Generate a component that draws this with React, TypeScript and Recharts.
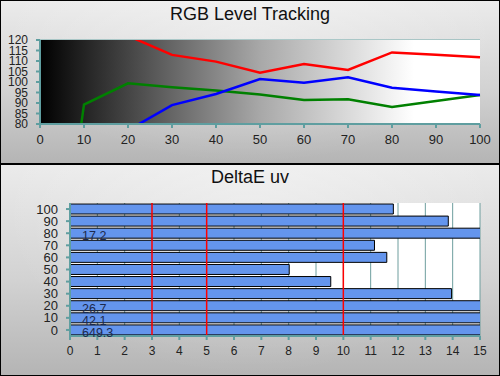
import React from 'react';
import {
  LineChart,
  Line,
  BarChart,
  Bar,
  XAxis,
  YAxis,
  CartesianGrid,
  ReferenceArea,
  ReferenceLine,
  LabelList,
} from 'recharts';

// RGB level tracking, stimulus level in %
const levels = [0, 10, 20, 30, 40, 50, 60, 70, 80, 90, 100];
const redValues = [160, 150, 122, 112.9, 109.7, 104.4, 108.6, 105.7, 114.1, 113, 111.8];
const greenValues = [-60, 89.2, 99.4, 97.5, 95.9, 94.1, 91.4, 91.8, 88.1, 91, 93.8];
const blueValues = [40, 60, 77, 89, 94.3, 101.4, 99.7, 102.2, 97.3, 95.5, 93.8];
const levelTicks = [0, 10, 20, 30, 40, 50, 60, 70, 80, 90, 100];
const rgbTicks = [80, 85, 90, 95, 100, 105, 110, 115, 120];

// DeltaE uv per level (top to bottom)
const deltaLevels = ['100', '90', '80', '70', '60', '50', '40', '30', '20', '10', '0'];
const deltaValues = [11.83, 13.84, 17.2, 11.14, 11.59, 8.02, 9.54, 13.96, 26.7, 42.1, 649.3];
const deltaTicks = [0, 1, 2, 3, 4, 5, 6, 7, 8, 9, 10, 11, 12, 13, 14, 15];
const deltaLimits = [3, 5, 10];

const rgbData = levels.map((lvl, i) => ({
  level: lvl,
  red: redValues[i],
  green: greenValues[i],
  blue: blueValues[i],
}));

const deltaData = deltaLevels.map((lvl, i) => ({ level: lvl, de: deltaValues[i] }));

const FONT = 'Arial, "Liberation Sans", sans-serif';
const AXIS = '#5f9ea0';
const tickStyle = { fill: '#222', fontSize: 13, fontFamily: FONT };

const panelBg =
  'radial-gradient(ellipse at 50% 20%, rgba(255,255,255,0.35), rgba(255,255,255,0) 70%), linear-gradient(to bottom, #ebebeb, #d2d2d2 55%, #b4b4b4)';

// values past the 15 axis limit get printed inside the bar
const overLabel = (props: any) => {
  const { x, y, height, value } = props;
  if (value <= 15) return null;
  return (
    <text
      x={x + 12}
      y={y + height / 2 + 4}
      fill="#1c2a4e"
      fontSize={12.5}
      fontFamily={FONT}
      dominantBaseline="middle"
    >
      {value}
    </text>
  );
};

export default function App() {
  return (
    <div
      style={{
        position: 'absolute',
        left: 0,
        top: 0,
        width: 500,
        height: 376,
        overflow: 'hidden',
        fontFamily: FONT,
      }}
    >
      {/* top panel */}
      <div style={{ position: 'absolute', left: 0, top: 0, width: 500, height: 164, background: panelBg }}>
        <div
          style={{
            position: 'absolute',
            top: 4,
            width: 500,
            textAlign: 'center',
            fontSize: 18,
            color: '#111',
          }}
        >
          RGB Level Tracking
        </div>
        <div style={{ position: 'absolute', left: 0, top: 0 }}>
          <LineChart width={500} height={164} data={rgbData} margin={{ top: 40, right: 20, left: 0, bottom: 10 }}>
            <defs>
              <linearGradient id="rgbBg" x1="0" y1="0" x2="1" y2="0">
                <stop offset="0%" stopColor="#000" />
                <stop offset="12%" stopColor="#2a2a2a" />
                <stop offset="50%" stopColor="#a8a8a8" />
                <stop offset="85%" stopColor="#fff" />
                <stop offset="100%" stopColor="#fff" />
              </linearGradient>
            </defs>
            <ReferenceArea x1={0} x2={100} y1={80} y2={120} fill="url(#rgbBg)" fillOpacity={1} stroke="none" ifOverflow="hidden" />
            <CartesianGrid vertical={false} stroke="#6fa9a9" strokeWidth={1} />
            <XAxis
              dataKey="level"
              type="number"
              domain={[0, 100]}
              ticks={levelTicks}
              height={30}
              tick={tickStyle}
              tickSize={4}
              tickMargin={7}
              stroke={AXIS}
              strokeWidth={2}
              tickLine={{ stroke: AXIS, strokeWidth: 2 }}
            />
            <YAxis
              type="number"
              domain={[80, 120]}
              ticks={rgbTicks}
              allowDataOverflow
              width={40}
              interval={0}
              tick={{ ...tickStyle, fontSize: 12 }}
              tickSize={4}
              tickMargin={8}
              stroke={AXIS}
              strokeWidth={2}
              tickLine={{ stroke: AXIS, strokeWidth: 2 }}
            />
            <Line dataKey="red" stroke="#ff0000" strokeWidth={2.5} dot={false} isAnimationActive={false} />
            <Line dataKey="green" stroke="#008000" strokeWidth={2.5} dot={false} isAnimationActive={false} />
            <Line dataKey="blue" stroke="#0000ff" strokeWidth={2.5} dot={false} isAnimationActive={false} />
          </LineChart>
        </div>
      </div>

      {/* bottom panel */}
      <div style={{ position: 'absolute', left: 0, top: 164, width: 500, height: 212, background: panelBg }}>
        <div
          style={{
            position: 'absolute',
            top: 3,
            width: 500,
            textAlign: 'center',
            fontSize: 18,
            color: '#111',
          }}
        >
          DeltaE uv
        </div>
        <div style={{ position: 'absolute', left: 0, top: 0 }}>
          <BarChart
            width={500}
            height={212}
            data={deltaData}
            layout="vertical"
            barSize={10}
            margin={{ top: 39, right: 20, left: 0, bottom: 10 }}
          >
            <CartesianGrid horizontal={false} stroke="#6e9e9e" fill="#fff" fillOpacity={1} />
            <XAxis
              type="number"
              domain={[0, 15]}
              ticks={deltaTicks}
              allowDataOverflow
              interval={0}
              height={30}
              tick={{ ...tickStyle, fontSize: 12 }}
              tickSize={4}
              tickMargin={6}
              stroke={AXIS}
              strokeWidth={2}
              tickLine={{ stroke: AXIS, strokeWidth: 2 }}
            />
            <YAxis
              type="category"
              dataKey="level"
              width={70}
              interval={0}
              tick={tickStyle}
              tickSize={4}
              tickMargin={8}
              stroke={AXIS}
              strokeWidth={2}
              tickLine={{ stroke: AXIS, strokeWidth: 2 }}
            />
            <Bar dataKey="de" fill="#6495ed" stroke="#000" strokeWidth={1} isAnimationActive={false}>
              <LabelList dataKey="de" content={overLabel} />
            </Bar>
            {deltaLimits.map((v) => (
              <ReferenceLine key={v} x={v} stroke="#ff0000" strokeWidth={1.5} />
            ))}
          </BarChart>
        </div>
      </div>

      {/* borders */}
      <div style={{ position: 'absolute', left: 0, top: 163, width: 500, height: 2, background: '#000' }} />
      <div
        style={{
          position: 'absolute',
          left: 0,
          top: 0,
          width: 500,
          height: 376,
          boxSizing: 'border-box',
          border: '1px solid #000',
          pointerEvents: 'none',
        }}
      />
    </div>
  );
}
